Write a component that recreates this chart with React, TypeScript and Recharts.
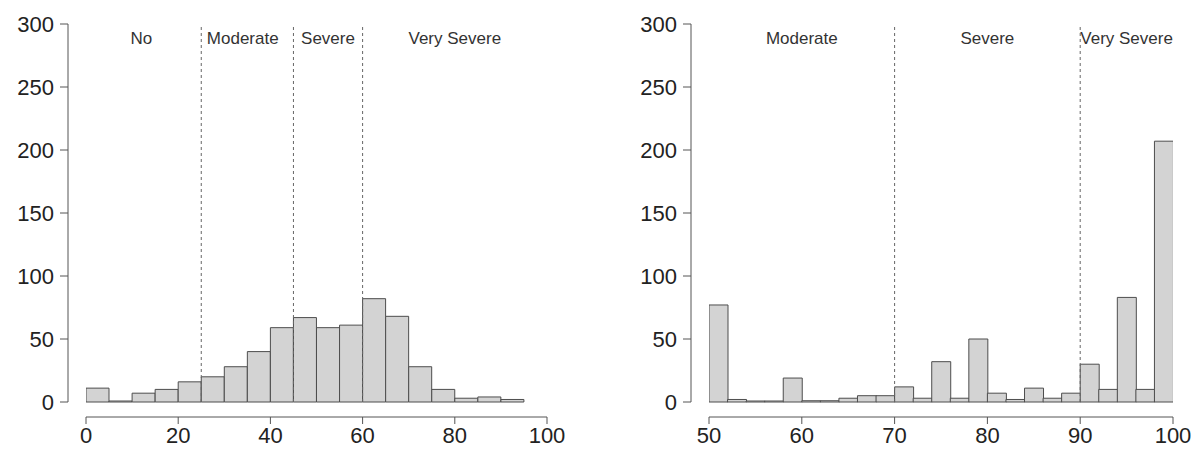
import React from 'react';
import { BarChart, Bar, XAxis, YAxis, ReferenceLine, ReferenceDot } from 'recharts';

// Left histogram (bins of width 5)
const leftBins = [2.5, 7.5, 12.5, 17.5, 22.5, 27.5, 32.5, 37.5, 42.5, 47.5, 52.5, 57.5, 62.5, 67.5, 72.5, 77.5, 82.5, 87.5, 92.5];
const leftCounts = [11, 0, 7, 10, 16, 20, 28, 40, 59, 67, 59, 61, 82, 68, 28, 10, 3, 4, 2];
const leftXTicks = [0, 20, 40, 60, 80, 100];
const leftCutoffs = [25, 45, 60];
const leftLabels = ['No', 'Moderate', 'Severe', 'Very Severe'];
const leftLabelPos = [12, 34, 52.5, 80];

// Right histogram (bins of width 2)
const rightBins = [51, 53, 55, 57, 59, 61, 63, 65, 67, 69, 71, 73, 75, 77, 79, 81, 83, 85, 87, 89, 91, 93, 95, 97, 99];
const rightCounts = [77, 2, 0, 0, 19, 1, 1, 3, 5, 5, 12, 3, 32, 3, 50, 7, 2, 11, 3, 7, 30, 10, 83, 10, 207];
const rightXTicks = [50, 60, 70, 80, 90, 100];
const rightCutoffs = [70, 90];
const rightLabels = ['Moderate', 'Severe', 'Very Severe'];
const rightLabelPos = [60, 80, 95];

const yTicks = [0, 50, 100, 150, 200, 250, 300];
const LABEL_Y = 289;

const CH = 449;
const TOP = 24;
const X_AXIS_H = 32;
const Y_PAD = 15;
const X_PAD = 18;
const AXIS_COLOR = '#555';
const TICK_FONT = 22;

type PanelProps = {
  bins: number[];
  counts: number[];
  domain: [number, number];
  xTicks: number[];
  cutoffs: number[];
  labels: string[];
  labelPos: number[];
  width: number;
  yAxisWidth: number;
  marginRight: number;
};

function Panel(p: PanelProps) {
  const data = p.bins.map((b, i) => ({ x: b, count: p.counts[i] }));
  const plotH = CH - TOP - X_AXIS_H;
  const yVisible = plotH - Y_PAD;
  return (
    <BarChart
      width={p.width}
      height={CH}
      data={data}
      margin={{ top: TOP, right: p.marginRight, bottom: 0, left: 0 }}
      barCategoryGap={0}
      barGap={0}
    >
      <XAxis
        dataKey="x"
        type="number"
        domain={p.domain}
        ticks={p.xTicks}
        interval={0}
        height={X_AXIS_H}
        padding={{ left: X_PAD, right: 0 }}
        tickSize={7}
        tickMargin={3}
        axisLine={{ stroke: AXIS_COLOR, strokeDasharray: `0 ${X_PAD} 3000` }}
        tickLine={{ stroke: AXIS_COLOR }}
        tick={{ fill: '#222', fontSize: TICK_FONT }}
        allowDataOverflow
      />
      <YAxis
        type="number"
        domain={[0, 300]}
        ticks={yTicks}
        interval={0}
        width={p.yAxisWidth}
        padding={{ top: 0, bottom: Y_PAD }}
        tickSize={8}
        tickMargin={6}
        axisLine={{ stroke: AXIS_COLOR, strokeDasharray: `${yVisible} 3000` }}
        tickLine={{ stroke: AXIS_COLOR }}
        tick={{ fill: '#222', fontSize: TICK_FONT }}
      />
      <Bar
        dataKey="count"
        fill="#d3d3d3"
        stroke="#4d4d4d"
        strokeWidth={1}
        minPointSize={1}
        isAnimationActive={false}
      />
      {p.cutoffs.map((c) => (
        <ReferenceLine
          key={c}
          segment={[{ x: c, y: 0 }, { x: c, y: 298 }]}
          stroke="#666"
          strokeDasharray="3 3"
          strokeWidth={1}
        />
      ))}
      {p.labels.map((t, i) => (
        <ReferenceDot
          key={t}
          x={p.labelPos[i]}
          y={LABEL_Y}
          r={0}
          fill="none"
          stroke="none"
          label={{ value: t, position: 'center', fontSize: 17, fill: '#333' }}
        />
      ))}
    </BarChart>
  );
}

export default function App() {
  return (
    <div
      style={{
        position: 'absolute',
        left: 0,
        top: 0,
        width: 1200,
        height: CH,
        background: '#fff',
        fontFamily: '"Liberation Sans", Arial, sans-serif',
      }}
    >
      <div style={{ position: 'absolute', left: 0, top: 0 }}>
        <Panel
          bins={leftBins}
          counts={leftCounts}
          domain={[0, 100]}
          xTicks={leftXTicks}
          cutoffs={leftCutoffs}
          labels={leftLabels}
          labelPos={leftLabelPos}
          width={600}
          yAxisWidth={68}
          marginRight={53}
        />
      </div>
      <div style={{ position: 'absolute', left: 600, top: 0 }}>
        <Panel
          bins={rightBins}
          counts={rightCounts}
          domain={[50, 100]}
          xTicks={rightXTicks}
          cutoffs={rightCutoffs}
          labels={rightLabels}
          labelPos={rightLabelPos}
          width={600}
          yAxisWidth={91}
          marginRight={27}
        />
      </div>
    </div>
  );
}
